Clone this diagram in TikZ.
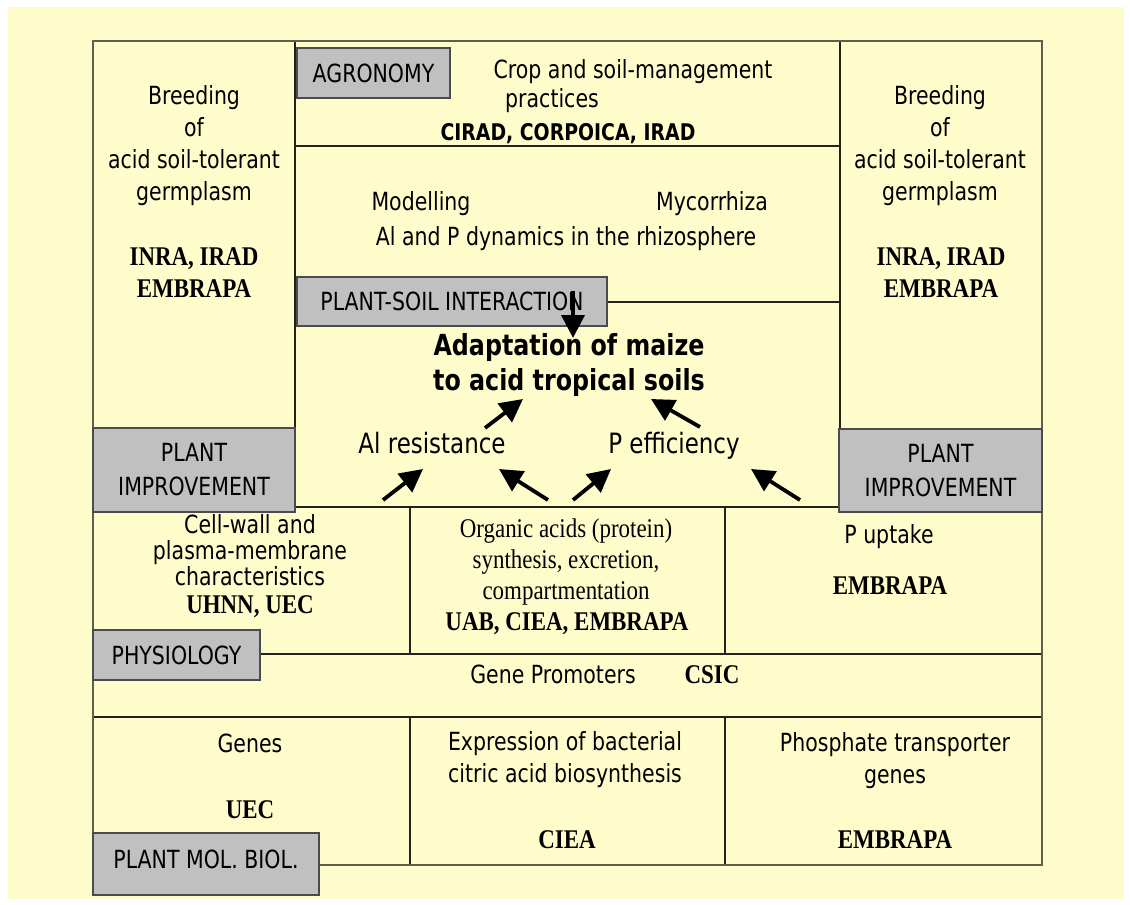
\documentclass[tikz,border=0pt]{standalone}
\usepackage{fontspec}
\usetikzlibrary{arrows.meta}
\newfontfamily\tah[FakeStretch=0.82]{DejaVu Sans}
\newfontfamily\tms[FakeStretch=0.85]{Liberation Serif}
\definecolor{bg}{RGB}{255,252,204}
\definecolor{boxgray}{RGB}{192,192,192}
\definecolor{boxedge}{RGB}{75,75,75}
\definecolor{frameline}{RGB}{95,95,80}
\definecolor{gridline}{RGB}{35,35,30}
\tikzset{
  grid/.style={draw=gridline, line width=1.8pt},
  outer/.style={draw=frameline, line width=2.6pt},
  graybox/.style={draw=boxedge, fill=boxgray, line width=2pt, inner sep=0pt, outer sep=0pt,
    font={\tah\fontsize{25}{34}\selectfont}, align=center},
  sans/.style={font={\tah\fontsize{25}{32}\selectfont}, align=center, inner sep=0pt},
  sanstight/.style={font={\tah\fontsize{25}{26}\selectfont}, align=center, inner sep=0pt},
  sansbold/.style={font={\tah\bfseries\fontsize{23}{28}\selectfont}, align=center, inner sep=0pt},
  title/.style={font={\tah\bfseries\fontsize{29}{35}\selectfont}, align=center, inner sep=0pt},
  big/.style={font={\tah\fontsize{28}{32}\selectfont}, inner sep=0pt},
  serb/.style={font={\tms\bfseries\fontsize{27}{32}\selectfont}, align=center, inner sep=0pt},
  serr/.style={font={\tms\fontsize{27}{31}\selectfont}, align=center, inner sep=0pt},
  arr/.style={draw=black, line width=3.8pt, -{Triangle[length=23pt,width=23pt]}},
}
\begin{document}
\begin{tikzpicture}[x=1pt,y=-1pt]
\useasboundingbox (0,0) rectangle (1130,905);
\fill[white] (0,0) rectangle (1130,905);
\fill[bg] (8,7) rectangle (1124,899);

% grid lines
\draw[grid] (295,41) -- (295,507);
\draw[grid] (840,41) -- (840,507);
\draw[grid] (295,146) -- (840,146);
\draw[grid] (295,302) -- (840,302);
\draw[grid] (93,507) -- (1042,507);
\draw[grid] (410,507) -- (410,654);
\draw[grid] (725,507) -- (725,654);
\draw[grid] (93,654) -- (1042,654);
\draw[grid] (93,717) -- (1042,717);
\draw[grid] (410,717) -- (410,865);
\draw[grid] (725,717) -- (725,865);
\draw[outer] (93,41) rectangle (1042,865);

% gray label boxes
\node[graybox, minimum width=153pt, minimum height=50pt] (agro) at (373.5,73) {AGRONOMY};
\node[graybox, minimum width=310pt, minimum height=49pt] (psi) at (452,301.5) {PLANT-SOIL INTERACTION};
\node[graybox, minimum width=202pt, minimum height=84pt] (piL) at (194,470) {PLANT\\IMPROVEMENT};
\node[graybox, minimum width=203pt, minimum height=83pt] (piR) at (940.5,470.5) {PLANT\\IMPROVEMENT};
\node[graybox, minimum width=167pt, minimum height=50pt] (phys) at (176.5,655) {PHYSIOLOGY};
\node[graybox, minimum width=226pt, minimum height=62pt, text depth=10pt] (pmb) at (206,864) {PLANT MOL. BIOL.};

% left and right breeding columns (base = baseline of last line)
\node[sans, anchor=base] (breedL) at (194,200) {Breeding\\of\\acid soil-tolerant\\germplasm};
\node[serb, anchor=base] (instL) at (194,297) {INRA, IRAD\\EMBRAPA};
\node[sans, anchor=base] (breedR) at (940,200) {Breeding\\of\\acid soil-tolerant\\germplasm};
\node[serb, anchor=base] (instR) at (941,297) {INRA, IRAD\\EMBRAPA};

% agronomy
\node[sans, anchor=base] (crop1) at (633,78) {Crop and soil-management};
\node[sans, anchor=base] (crop2) at (552,107) {practices};
\node[sansbold, anchor=base] (cirad) at (568,140) {CIRAD, CORPOICA, IRAD};

% plant-soil interaction
\node[sans, anchor=base] (model) at (421,210) {Modelling};
\node[sans, anchor=base] (myco) at (712,210) {Mycorrhiza};
\node[sans, anchor=base] (dyn) at (566,245) {Al and P dynamics in the rhizosphere};

% central
\node[title, anchor=base] (adapt) at (569,390) {Adaptation of maize\\to acid tropical soils};
\node[big, anchor=base] (alres) at (432,453) {Al resistance};
\node[big, anchor=base] (peff) at (674,453) {P efficiency};

% physiology row
\node[sanstight, anchor=base] (cell) at (250,585) {Cell-wall and\\plasma-membrane\\characteristics};
\node[serb, anchor=base] (uhnn) at (250,613) {UHNN, UEC};
\node[serr, anchor=base] (org) at (566,599) {Organic acids (protein)\\synthesis, excretion,\\compartmentation};
\node[serb, anchor=base] (uab) at (567,630) {UAB, CIEA, EMBRAPA};
\node[sans, anchor=base] (pupt) at (889,543) {P uptake};
\node[serb, anchor=base] (embp) at (890,594) {EMBRAPA};
\node[sans, anchor=base] (gprom) at (553,683) {Gene Promoters};
\node[serb, anchor=base] (csic) at (712,683) {CSIC};

% molecular biology row
\node[sans, anchor=base] (genes) at (250,752) {Genes};
\node[serb, anchor=base] (uec) at (250,818) {UEC};
\node[sans, anchor=base] (expr) at (565,782) {Expression of bacterial\\citric acid biosynthesis};
\node[serb, anchor=base] (ciea) at (567,848) {CIEA};
\node[sans, anchor=base] (phos) at (895,783) {Phosphate transporter\\genes};
\node[serb, anchor=base] (embm) at (895,848) {EMBRAPA};

% arrow end points
\coordinate (a0s) at (573,291);
\coordinate (a0e) at (573,338);
\coordinate (a1s) at (485,428);
\coordinate (a1e) at (523,399);
\coordinate (a2s) at (700,427);
\coordinate (a2e) at (651,399);
\coordinate (a3s) at (383,500);
\coordinate (a3e) at (423,469);
\coordinate (a4s) at (548,500);
\coordinate (a4e) at (499,469);
\coordinate (a5s) at (573,500);
\coordinate (a5e) at (611,469);
\coordinate (a6s) at (800,500);
\coordinate (a6e) at (751,469);

\draw[arr] (a0s) -- (a0e);
\draw[arr] (a1s) -- (a1e);
\draw[arr] (a2s) -- (a2e);
\draw[arr] (a3s) -- (a3e);
\draw[arr] (a4s) -- (a4e);
\draw[arr] (a5s) -- (a5e);
\draw[arr] (a6s) -- (a6e);
\end{tikzpicture}
\end{document}
